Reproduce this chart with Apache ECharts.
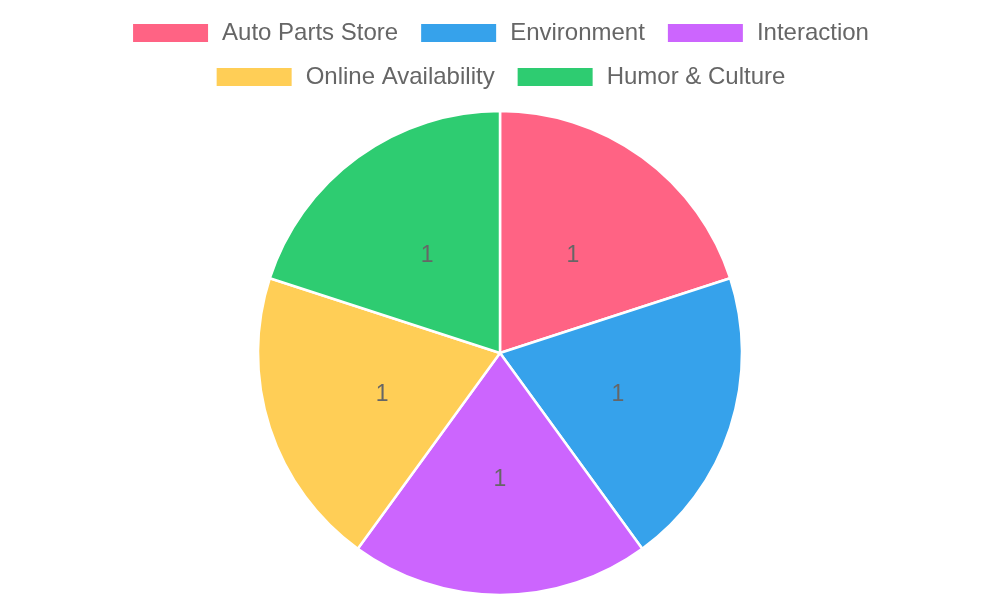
<!DOCTYPE html>
<html>
<head>
<meta charset="utf-8">
<script src="https://cdn.jsdelivr.net/npm/echarts@6/dist/echarts.min.js"></script>
<style>
  html, body { margin: 0; padding: 0; background: #fff; }
  #main { width: 1000px; height: 600px; }
</style>
</head>
<body>
<div id="main"></div>
<script>
var categories = ['Auto Parts Store', 'Environment', 'Interaction', 'Online Availability', 'Humor & Culture'];
var values = [1, 1, 1, 1, 1];
var colors = ['#ff6384', '#36a2eb', '#cc65fe', '#ffce56', '#2ecc71'];
var legendRow1 = ['Auto Parts Store', 'Environment', 'Interaction'];
var legendRow2 = ['Online Availability', 'Humor & Culture'];

var pieData = [];
for (var i = 0; i < categories.length; i++) {
  pieData.push({
    name: categories[i],
    value: values[i],
    itemStyle: {color: colors[i]}
  });
}

var legendBase = {
  left: 'center',
  orient: 'horizontal',
  padding: 0,
  itemWidth: 77,
  itemHeight: 20,
  itemGap: 21,
  icon: 'rect',
  selectedMode: false,
  textStyle: {
    fontFamily: 'Liberation Sans, Arial, sans-serif',
    fontSize: 24,
    color: '#666',
    padding: [0, 0, 0, 8]
  }
};

var myChart = echarts.init(document.getElementById('main'));
myChart.setOption({
  animation: false,
  legend: [
    Object.assign({}, legendBase, {top: 21, data: legendRow1}),
    Object.assign({}, legendBase, {top: 65, data: legendRow2})
  ],
  series: [
    {
      type: 'pie',
      center: [500, 353],
      radius: [0, 242],
      startAngle: 90,
      clockwise: true,
      data: pieData,
      itemStyle: {
        borderColor: '#fff',
        borderWidth: 2.5
      },
      label: {
        show: true,
        position: 'inside',
        formatter: '{c}',
        fontFamily: 'Liberation Sans, Arial, sans-serif',
        fontSize: 23,
        color: '#666',
        offset: [0, 3]
      },
      labelLine: {show: false},
      emphasis: {disabled: true}
    }
  ]
});
</script>
</body>
</html>
